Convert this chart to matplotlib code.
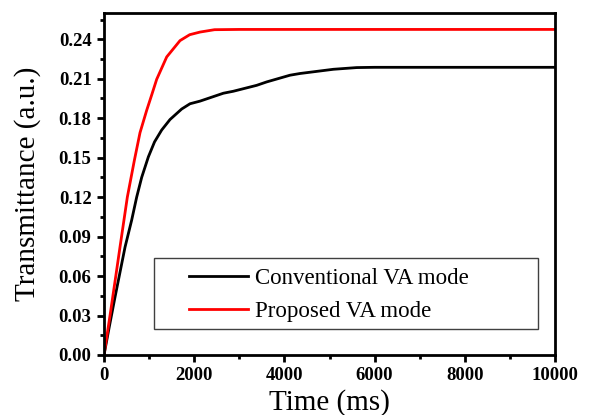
import matplotlib
matplotlib.use("Agg")
import matplotlib.pyplot as plt
from matplotlib.patches import Rectangle
from matplotlib.ticker import MultipleLocator, FormatStrFormatter

# time (ms) and transmittance
t_conv = [0, 120, 244, 466, 613, 724, 835, 983, 1120, 1278, 1463, 1722, 1907,
          2129, 2646, 2867, 3385, 3607, 4124, 4346, 5085, 5603, 6000, 8000, 10000]
v_conv = [0.0, 0.022, 0.044, 0.082, 0.1025, 0.120, 0.135, 0.1506, 0.162, 0.171,
          0.179, 0.187, 0.191, 0.193, 0.199, 0.2005, 0.205, 0.2076, 0.2127,
          0.214, 0.2172, 0.2185, 0.2187, 0.2187, 0.2187]

t_prop = [0, 133, 259, 355, 517, 673, 798, 946, 1060, 1168, 1390, 1685, 1900,
          2129, 2450, 3000, 6000, 10000]
v_prop = [0.0, 0.030, 0.0595, 0.0822, 0.120, 0.148, 0.169, 0.186, 0.198, 0.2096,
          0.2266, 0.239, 0.2435, 0.2455, 0.2473, 0.2475, 0.2475, 0.2475]

plt.rcParams['font.family'] = ['Liberation Serif', 'DejaVu Serif']

fig = plt.figure(figsize=(5.89, 4.15), dpi=100)
ax = fig.add_axes([0.1766, 0.1446, 0.7657, 0.8241])

ax.plot(t_conv, v_conv, color='black', linewidth=2, label='Conventional VA mode')
ax.plot(t_prop, v_prop, color='#ff0000', linewidth=2, label='Proposed VA mode')

ax.set_xlim(0, 10000)
ax.set_ylim(0, 0.26)
ax.xaxis.set_major_locator(MultipleLocator(2000))
ax.xaxis.set_minor_locator(MultipleLocator(1000))
ax.yaxis.set_major_locator(MultipleLocator(0.03))
ax.yaxis.set_minor_locator(MultipleLocator(0.015))
ax.yaxis.set_major_formatter(FormatStrFormatter('%.2f'))

ax.tick_params(which='major', direction='out', length=5, width=2, labelsize=13.5, pad=4)
ax.tick_params(which='minor', direction='out', length=3, width=2)
ax.tick_params(top=False, right=False)
for lab in ax.get_xticklabels() + ax.get_yticklabels():
    lab.set_fontweight('bold')
for sp in ax.spines.values():
    sp.set_linewidth(2)

ax.set_xlabel('Time (ms)', fontsize=21, labelpad=3)
ax.set_ylabel('Transmittance (a.u.)', fontsize=21, labelpad=13)

# legend entries without frame, the wide box drawn separately like in the original
leg = ax.legend(loc='center left', bbox_to_anchor=(0.188, 0.175), fontsize=16.5,
                frameon=False, handlelength=2.58, borderpad=0, borderaxespad=0,
                labelspacing=0.55, handletextpad=0.3)
box = Rectangle((0.111, 0.076), 0.851, 0.208, transform=ax.transAxes,
                fill=False, edgecolor='#404040', linewidth=1, zorder=5)
ax.add_patch(box)

fig.savefig('out.png', dpi=100)
